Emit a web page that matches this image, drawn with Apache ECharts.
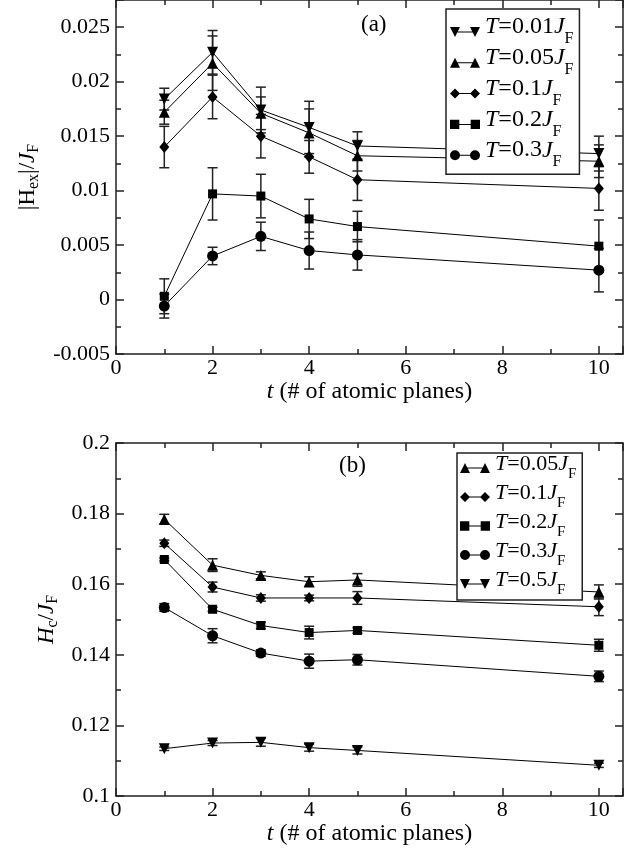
<!DOCTYPE html>
<html>
<head>
<meta charset="utf-8">
<script src="https://cdn.jsdelivr.net/npm/echarts@6/dist/echarts.min.js"></script>
<style>
  html, body { margin: 0; padding: 0; background: #fff; }
  #chart { width: 641px; height: 850px; }
</style>
</head>
<body>
<div id="chart"></div>
<script>
// number of atomic planes
const planes = [1, 2, 3, 4, 5, 10]

// (a) |Hex|/JF
const hexT001 = [0.0184, 0.0227, 0.0174, 0.0158, 0.0141, 0.0134]
const hexT001Err = [0.0010, 0.0020, 0.0021, 0.0024, 0.0013, 0.0016]
const hexT005 = [0.0172, 0.0217, 0.0171, 0.0153, 0.0132, 0.0127]
const hexT005Err = [0.0011, 0.0025, 0.0015, 0.0022, 0.0014, 0.0015]
const hexT01 = [0.0140, 0.0186, 0.0150, 0.0131, 0.0110, 0.0102]
const hexT01Err = [0.0019, 0.0020, 0.0020, 0.0015, 0.0019, 0.0020]
const hexT02 = [0.0003, 0.0097, 0.0095, 0.0074, 0.0067, 0.0049]
const hexT02Err = [0.0016, 0.0024, 0.0020, 0.0018, 0.0014, 0.0024]
const hexT03 = [-0.0006, 0.0040, 0.0058, 0.0045, 0.0041, 0.0027]
const hexT03Err = [0.0011, 0.0008, 0.0013, 0.0017, 0.0014, 0.0020]

// (b) Hc/JF
const hcT005 = [0.1784, 0.1654, 0.1625, 0.1607, 0.1612, 0.1578]
const hcT005Err = [0.0014, 0.0018, 0.0010, 0.0014, 0.0018, 0.0020]
const hcT01 = [0.1716, 0.1592, 0.1561, 0.1561, 0.1561, 0.1536]
const hcT01Err = [0.0009, 0.0014, 0.0009, 0.0008, 0.0018, 0.0025]
const hcT02 = [0.1670, 0.1529, 0.1483, 0.1463, 0.1469, 0.1427]
const hcT02Err = [0.0004, 0.0006, 0.0009, 0.0018, 0.0008, 0.0017]
const hcT03 = [0.1534, 0.1454, 0.1405, 0.1382, 0.1386, 0.1339]
const hcT03Err = [0.0011, 0.0020, 0.0009, 0.0020, 0.0015, 0.0015]
const hcT05 = [0.1134, 0.1150, 0.1152, 0.1137, 0.1129, 0.1087]
const hcT05Err = [0.0005, 0.0007, 0.0011, 0.0010, 0.0010, 0.0006]

const xTicks = { min: 0, max: 10.5, interval: 2 }
const hexTicks = { min: -0.005, max: 0.0275, interval: 0.005 }
const hcTicks = { min: 0.1, max: 0.2, interval: 0.02 }

const FONT = 'Liberation Serif'
const INK = '#222'

const markers = {
  down: { symbol: 'triangle', rotate: 180, size: 11 },
  up: { symbol: 'triangle', rotate: 0, size: 11 },
  diamond: { symbol: 'diamond', rotate: 0, size: [10, 12] },
  square: { symbol: 'rect', rotate: 0, size: 9 },
  circle: { symbol: 'circle', rotate: 0, size: 11 },
}

// legend icons: marker - line - marker
const bar = ' M5,4.5 L25,4.5 L25,5.5 L5,5.5 Z'
const legendIcons = {
  down: 'path://M0,0 L10,0 L5,10 Z M20,0 L30,0 L25,10 Z' + bar,
  up: 'path://M0,10 L5,0 L10,10 Z M20,10 L25,0 L30,10 Z' + bar,
  diamond: 'path://M5,0 L10,5 L5,10 L0,5 Z M25,0 L30,5 L25,10 L20,5 Z' + bar,
  square: 'path://M0.5,0.5 L9.5,0.5 L9.5,9.5 L0.5,9.5 Z M20.5,0.5 L29.5,0.5 L29.5,9.5 L20.5,9.5 Z' + bar,
  circle: 'path://M0,5 A5,5 0 1,1 10,5 A5,5 0 1,1 0,5 Z M20,5 A5,5 0 1,1 30,5 A5,5 0 1,1 20,5 Z' + bar,
}

const panelA = [
  { name: 'T=0.01', mk: 'down', y: hexT001, err: hexT001Err },
  { name: 'T=0.05', mk: 'up', y: hexT005, err: hexT005Err },
  { name: 'T=0.1', mk: 'diamond', y: hexT01, err: hexT01Err },
  { name: 'T=0.2', mk: 'square', y: hexT02, err: hexT02Err },
  { name: 'T=0.3', mk: 'circle', y: hexT03, err: hexT03Err },
]
const panelB = [
  { name: 'T=0.05', mk: 'up', y: hcT005, err: hcT005Err },
  { name: 'T=0.1', mk: 'diamond', y: hcT01, err: hcT01Err },
  { name: 'T=0.2', mk: 'square', y: hcT02, err: hcT02Err },
  { name: 'T=0.3', mk: 'circle', y: hcT03, err: hcT03Err },
  { name: 'T=0.5', mk: 'down', y: hcT05, err: hcT05Err },
]

const chart = echarts.init(document.getElementById('chart'))

function renderErr(params, api) {
  const x = api.value(0)
  const lo = api.coord([x, api.value(1)])
  const hi = api.coord([x, api.value(2)])
  const w = 5
  const style = { stroke: INK, lineWidth: 1.5 }
  return {
    type: 'group',
    children: [
      { type: 'line', shape: { x1: lo[0], y1: lo[1], x2: hi[0], y2: hi[1] }, style },
      { type: 'line', shape: { x1: lo[0] - w, y1: lo[1], x2: lo[0] + w, y2: lo[1] }, style },
      { type: 'line', shape: { x1: hi[0] - w, y1: hi[1], x2: hi[0] + w, y2: hi[1] }, style },
    ],
  }
}

function makeSeries(panel, idx) {
  const out = []
  const errData = []
  panel.forEach(s => {
    const m = markers[s.mk]
    out.push({
      name: s.name,
      type: 'line',
      xAxisIndex: idx * 2,
      yAxisIndex: idx * 2,
      data: planes.map((p, i) => [p, s.y[i]]),
      symbol: m.symbol,
      symbolRotate: m.rotate,
      symbolSize: m.size,
      showAllSymbol: true,
      lineStyle: { color: '#000', width: 1 },
      itemStyle: { color: '#000' },
      z: 3,
    })
    planes.forEach((p, i) => errData.push([p, s.y[i] - s.err[i], s.y[i] + s.err[i]]))
  })
  out.push({
    name: 'err' + idx,
    type: 'custom',
    xAxisIndex: idx * 2,
    yAxisIndex: idx * 2,
    renderItem: renderErr,
    data: errData,
    z: 2,
  })
  return out
}

const axisLineStyle = { color: INK, width: 1.5 }

function xAxes(grid, nameGap) {
  const base = {
    type: 'value',
    gridIndex: grid,
    min: xTicks.min,
    max: xTicks.max,
    interval: xTicks.interval,
    splitLine: { show: false },
    axisLine: { onZero: false, lineStyle: axisLineStyle },
    axisTick: { inside: true, length: 8, lineStyle: axisLineStyle },
    minorTick: { show: true, splitNumber: 2, length: 5, lineStyle: axisLineStyle },
  }
  return [
    {
      ...base,
      position: 'bottom',
      axisLabel: { color: '#000', fontFamily: FONT, fontSize: 22, margin: 3, showMaxLabel: false },
      name: '{i|t} (# of atomic planes)',
      nameLocation: 'middle',
      nameGap,
      nameTextStyle: {
        color: '#000', fontFamily: FONT, fontSize: 24,
        rich: { i: { fontStyle: 'italic', fontFamily: FONT, fontSize: 24 } },
      },
    },
    { ...base, position: 'top', axisLabel: { show: false } },
  ]
}

function yAxes(grid, ticks, name, nameGap) {
  const base = {
    type: 'value',
    gridIndex: grid,
    min: ticks.min,
    max: ticks.max,
    interval: ticks.interval,
    splitLine: { show: false },
    axisLine: { onZero: false, lineStyle: axisLineStyle },
    axisTick: { inside: true, length: 8, lineStyle: axisLineStyle },
    minorTick: { show: true, splitNumber: 2, length: 5, lineStyle: axisLineStyle },
  }
  return [
    {
      ...base,
      position: 'left',
      axisLabel: { color: '#000', fontFamily: FONT, fontSize: 22, margin: 6, showMaxLabel: ticks.max === 0.2 },
      name,
      nameLocation: 'middle',
      nameGap,
      nameTextStyle: {
        color: '#000', fontFamily: FONT, fontSize: 23,
        rich: {
          n: { fontFamily: FONT, fontSize: 23, color: '#000' },
          i: { fontStyle: 'italic', fontFamily: FONT, fontSize: 23, color: '#000' },
          s: { fontFamily: FONT, fontSize: 16, color: '#000', padding: [12, 0, 0, 0] },
        },
      },
    },
    { ...base, position: 'right', axisLabel: { show: false } },
  ]
}

function legendLabel(name) {
  return '{i|T}{n|' + name.slice(1) + '}{i|J}{s|F}'
}
function makeLegend(panel, pos) {
  const fs = pos.fontSize
  const rich = {
    n: { fontFamily: FONT, fontSize: fs, color: '#000', padding: [0, 0, pos.lift, 0] },
    i: { fontFamily: FONT, fontSize: fs, fontStyle: 'italic', color: '#000', padding: [0, 0, pos.lift, 0] },
    s: { fontFamily: FONT, fontSize: pos.subSize, color: '#000', padding: [pos.drop, 0, 0, 0] },
  }
  return {
    orient: 'vertical',
    left: pos.left,
    top: pos.top,
    padding: pos.padding,
    itemGap: pos.gap,
    itemWidth: 30,
    itemHeight: 10,
    borderColor: INK,
    borderWidth: 1.5,
    backgroundColor: '#fff',
    selectedMode: false,
    data: panel.map(s => ({ name: s.name, icon: legendIcons[s.mk], itemStyle: { color: '#000' } })),
    formatter: legendLabel,
    textStyle: { fontFamily: FONT, fontSize: fs, color: '#000', rich },
  }
}

const panelLabel = { fontFamily: FONT, fontSize: 23, fontWeight: 'normal', color: '#000' }

const option = {
  animation: false,
  backgroundColor: '#fff',
  title: [
    { text: '(a)', left: 361, top: 13, padding: 0, textStyle: panelLabel },
    { text: '(b)', left: 339, top: 454, padding: 0, textStyle: panelLabel },
  ],
  grid: [
    { left: 116, top: -2, width: 507, height: 356 },
    { left: 116, top: 443, width: 507, height: 353 },
  ],
  xAxis: [...xAxes(0, 18), ...xAxes(1, 25)],
  yAxis: [
    ...yAxes(0, hexTicks, '{n||H}{s|ex}{n||/}{i|J}{s|F}', 74),
    ...yAxes(1, hcTicks, '{i|H}{s|c}{n|/}{i|J}{s|F}', 46),
  ],
  legend: [
    makeLegend(panelA, { left: 446, top: 9, padding: [6, 6, 4, 4], gap: -1.2, fontSize: 24, subSize: 16, lift: 10, drop: 14 }),
    makeLegend(panelB, { left: 457, top: 453, padding: [0, 6, 2, 3], gap: 0, fontSize: 22, subSize: 15, lift: 8, drop: 13 }),
  ],
  series: [...makeSeries(panelA, 0), ...makeSeries(panelB, 1)],
}

chart.setOption(option)
</script>
</body>
</html>
